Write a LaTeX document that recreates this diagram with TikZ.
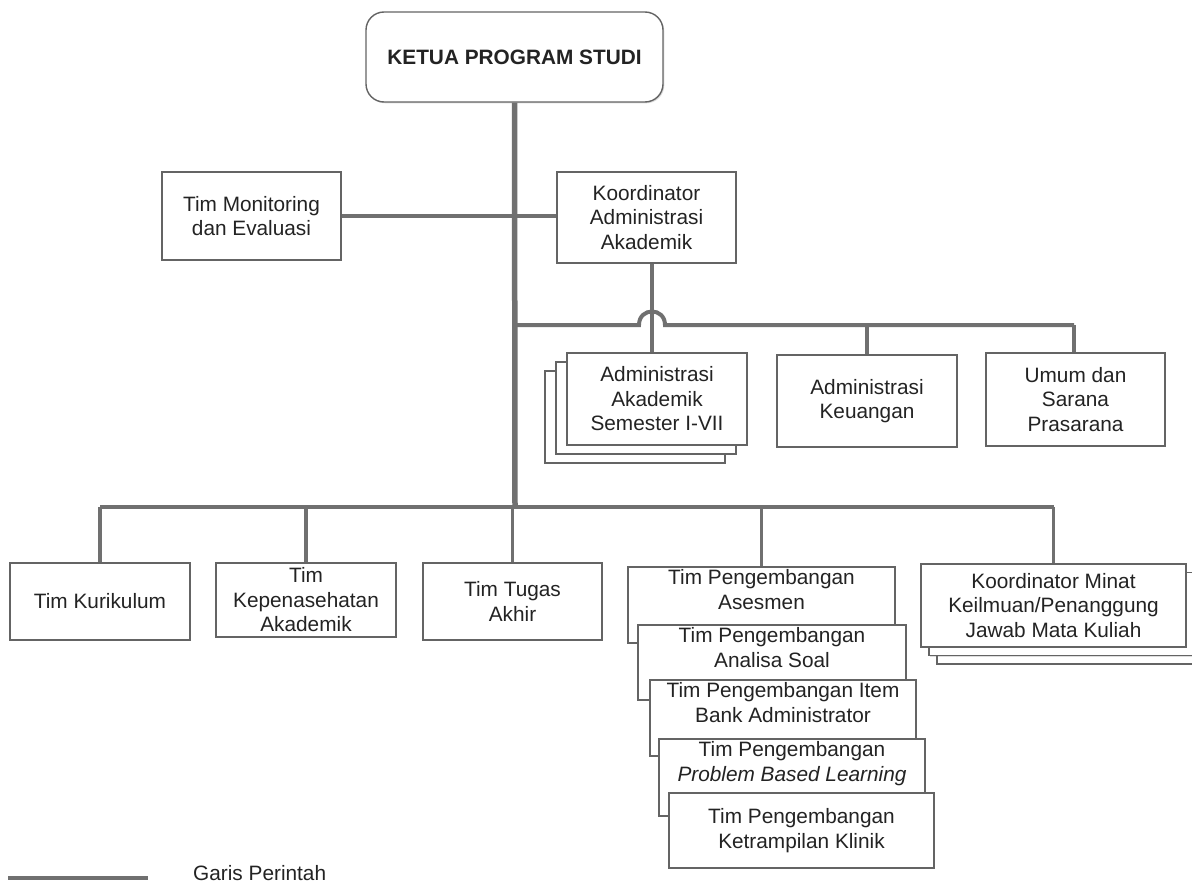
\documentclass[tikz,border=0pt]{standalone}
\usepackage{fontspec}
\setmainfont{Liberation Sans}
\usetikzlibrary{shadows}
\definecolor{linegray}{RGB}{112,112,112}
\definecolor{boxgray}{RGB}{100,100,100}
\definecolor{txt}{RGB}{35,35,35}
\begin{document}
\begin{tikzpicture}[x=1pt,y=-1pt,
  orgbox/.style={draw=boxgray, line width=1.4pt, fill=white, align=center, inner sep=2pt,
    text=txt, font=\fontsize{20.8}{24.5}\selectfont,
    drop shadow={shadow xshift=1.3pt, shadow yshift=-1.3pt, opacity=0.22, fill=black!60}},
  lbl/.style={align=center, inner sep=0pt, text=txt, font=\fontsize{20.8}{24.5}\selectfont},
  conn/.style={draw=linegray, line width=3.4pt},
  hline/.style={draw=linegray, line width=4pt},
  mainline/.style={draw=linegray, line width=5.5pt}]
\clip (0,0) rectangle (1192,883);
\fill[white] (0,0) rectangle (1192,883);

% ---------- boxes ----------
\node[orgbox, minimum width=297pt, minimum height=90pt, rounded corners=18pt,
  font=\fontsize{20.8}{24.5}\selectfont\bfseries] (ketua) at (514.5,57) {KETUA PROGRAM STUDI};

\node[orgbox, minimum width=179pt, minimum height=88pt] (mon) at (251.5,216) {Tim Monitoring\\dan Evaluasi};
\node[orgbox, minimum width=179pt, minimum height=91pt] (koord) at (646.5,217.5) {Koordinator\\Administrasi\\Akademik};

% Administrasi Akademik stack
\node[orgbox, minimum width=180pt, minimum height=92pt] (adm3) at (635,417) {};
\node[orgbox, minimum width=180pt, minimum height=92pt] (adm2) at (646,408) {};
\node[orgbox, minimum width=180pt, minimum height=92pt] (adm) at (657,399) {Administrasi\\Akademik\\Semester I-VII};

\node[orgbox, minimum width=180pt, minimum height=92pt] (keu) at (867,401) {Administrasi\\Keuangan};
\node[orgbox, minimum width=179pt, minimum height=93pt] (umum) at (1075.5,399.5) {Umum dan\\Sarana\\Prasarana};

\node[orgbox, minimum width=180pt, minimum height=77pt] (kur) at (100,601.5) {Tim Kurikulum};
\node[orgbox, minimum width=180pt, minimum height=74pt] (kep) at (306,600) {Tim\\Kepenasehatan\\Akademik};
\node[orgbox, minimum width=179pt, minimum height=77pt] (tug) at (512.5,601.5) {Tim Tugas\\Akhir};

% Pengembangan stack
\node[orgbox, minimum width=267pt, minimum height=76pt] (ases1) at (761.5,605) {};
\node[lbl, anchor=north] (ases1t) at ([yshift=-3pt]ases1.north) {Tim Pengembangan\\Asesmen};
\node[orgbox, minimum width=268pt, minimum height=75pt] (ases2) at (772,662.5) {};
\node[lbl, anchor=north] (ases2t) at ([yshift=-3pt]ases2.north) {Tim Pengembangan\\Analisa Soal};
\node[orgbox, minimum width=266pt, minimum height=76pt] (ases3) at (783,718) {};
\node[lbl, anchor=north] (ases3t) at ([yshift=-3pt]ases3.north) {Tim Pengembangan Item\\Bank Administrator};
\node[orgbox, minimum width=266pt, minimum height=77pt] (ases4) at (792,777.5) {};
\node[lbl, anchor=north] (ases4t) at ([yshift=-3pt]ases4.north) {Tim Pengembangan\\\textit{Problem Based Learning}};
\node[orgbox, minimum width=265pt, minimum height=75pt] (ases5) at (801.5,830.5) {Tim Pengembangan\\Ketrampilan Klinik};

% Koordinator Minat stack
\node[orgbox, minimum width=265pt, minimum height=83pt] (minat3) at (1069.5,622.5) {};
\node[orgbox, minimum width=265pt, minimum height=83pt] (minat2) at (1061.5,614) {};
\node[orgbox, minimum width=265pt, minimum height=83pt] (minat) at (1053.5,605.5) {Koordinator Minat\\Keilmuan/Penanggung\\Jawab Mata Kuliah};

% ---------- connectors ----------
\coordinate (bus) at (515,507);
\coordinate (ubus) at (515,325);
\draw[mainline] (ketua.south) -- (bus);
\draw[conn] (mon.east) -- (mon.east -| koord.west);

\coordinate (hopL) at (639,325);
\coordinate (hopR) at (665,325);
\draw[hline] (ubus) -- (hopL) .. controls (639,307) and (665,307) .. (hopR) -- ([xshift=-1.5pt]umum.north |- ubus);
\draw[conn] (keu.north) -- (keu.north |- ubus);
\draw[conn] ([xshift=-1.5pt]umum.north) -- ([xshift=-1.5pt]umum.north |- ubus);
\draw[conn] ([xshift=5.5pt]koord.south) -- ([xshift=-5pt]adm.north);

\draw[hline] (kur.north |- bus) -- (minat.north |- bus);
\draw[conn] (kur.north) -- (kur.north |- bus);
\draw[conn] (kep.north) -- (kep.north |- bus);
\draw[conn] (tug.north) -- (tug.north |- bus);
\draw[conn] (ases1.north) -- (ases1.north |- bus);
\draw[conn] (minat.north) -- (minat.north |- bus);

% ---------- legend ----------
\coordinate (lg1) at (8,878);
\coordinate (lg2) at (148,878);
\draw[conn] (lg1) -- (lg2);
\node[lbl, anchor=base west] (legtext) at (193,880) {Garis Perintah};
\end{tikzpicture}
\end{document}
